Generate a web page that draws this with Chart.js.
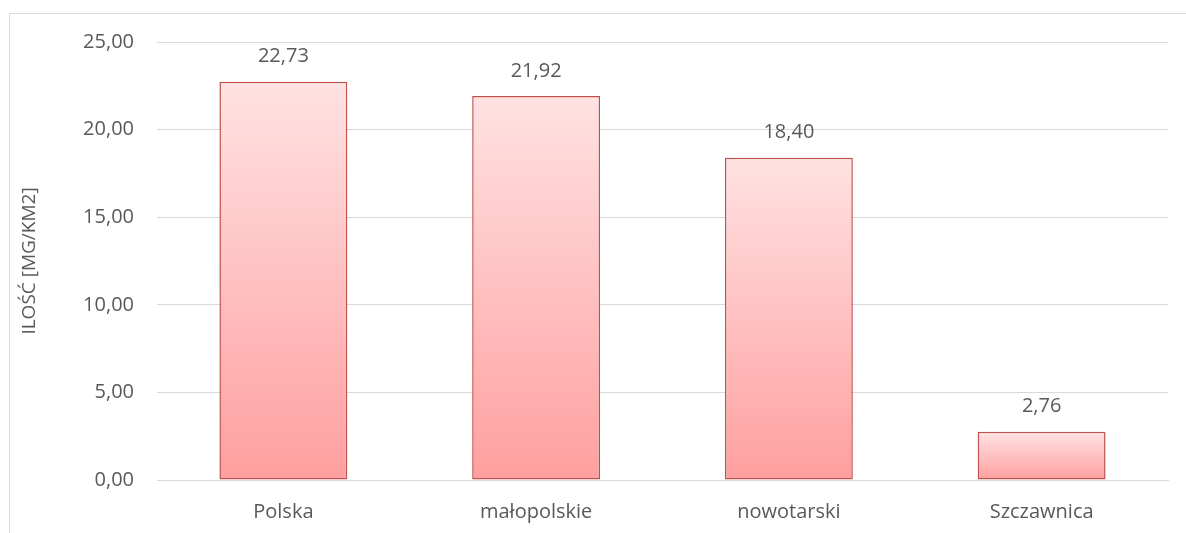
<!DOCTYPE html>
<html>
<head>
<meta charset="utf-8">
<script src="https://cdn.jsdelivr.net/npm/chart.js@4.4.1/dist/chart.umd.min.js"></script>
<style>
  html, body { margin: 0; padding: 0; background: #fff; overflow: hidden; }
  #frame {
    position: absolute; left: 9px; top: 13px;
    width: 1300px; height: 700px;
    border: 1px solid #d9d9d9;
  }
  #wrap { position: absolute; left: 0; top: 0; width: 1186px; height: 533px; }
</style>
</head>
<body>
<div id="frame"></div>
<div id="wrap"><canvas id="chart"></canvas></div>
<script>
// Chart data
const categories = ['Polska', 'małopolskie', 'nowotarski', 'Szczawnica'];
const values = [22.73, 21.92, 18.40, 2.76];
const yTicks = [0, 5, 10, 15, 20, 25];

const fontFamily = '"Open Sans", Lato, sans-serif';
const textColor = '#595959';
const fontSize = 20;

function fmt(v) {
  return Number(v).toFixed(2).replace('.', ',');
}

// Gradient fill per bar (light top, darker bottom)
function barGradient(context) {
  const chart = context.chart;
  const yScale = chart.scales.y;
  if (!chart.chartArea || !yScale) return '#ffc0c0';
  const top = yScale.getPixelForValue(values[context.dataIndex]);
  const bottom = yScale.getPixelForValue(0);
  if (!isFinite(top) || !isFinite(bottom) || top === bottom) return '#ffc0c0';
  const g = chart.ctx.createLinearGradient(0, top, 0, bottom);
  g.addColorStop(0, '#ffe2e2');
  g.addColorStop(1, '#ff9f9f');
  return g;
}

// Value labels above bars
const valueLabels = {
  id: 'valueLabels',
  afterDatasetsDraw(chart) {
    const ctx = chart.ctx;
    const meta = chart.getDatasetMeta(0);
    ctx.save();
    ctx.font = fontSize + 'px ' + fontFamily;
    ctx.fillStyle = textColor;
    ctx.textAlign = 'center';
    ctx.textBaseline = 'middle';
    meta.data.forEach((bar, i) => {
      ctx.fillText(fmt(values[i]), bar.x, bar.y - 25);
    });
    ctx.restore();
  }
};

const ctx = document.getElementById('chart').getContext('2d');
new Chart(ctx, {
  type: 'bar',
  data: {
    labels: categories,
    datasets: [
      {
        data: values,
        backgroundColor: (c) => barGradient(c),
        borderColor: '#c0504d',
        borderWidth: 1.5,
        borderSkipped: false,
        barPercentage: 0.506,
        categoryPercentage: 1,
      },
    ],
  },
  options: {
    responsive: true,
    maintainAspectRatio: false,
    animation: false,
    layout: { padding: { top: 42, right: 18, bottom: 0, left: 0 } },
    plugins: {
      legend: { display: false },
      tooltip: { enabled: false },
    },
    scales: {
      x: {
        grid: { display: false, drawTicks: false },
        border: { display: true, color: '#d9d9d9', width: 1 },
        ticks: {
          color: textColor,
          font: { family: fontFamily, size: fontSize },
          padding: 20,
        },
        afterFit: (scale) => { scale.height = 53; },
      },
      y: {
        min: 0,
        max: 25,
        afterBuildTicks: (scale) => {
          scale.ticks = yTicks.map((v) => ({ value: v }));
        },
        grid: { color: '#d9d9d9', lineWidth: 1, drawTicks: false },
        border: { display: false },
        ticks: {
          color: textColor,
          font: { family: fontFamily, size: fontSize },
          padding: 23,
          callback: (v) => fmt(v),
        },
        title: {
          display: true,
          text: 'ILOŚĆ [MG/KM2]',
          color: textColor,
          font: { family: fontFamily, size: 19 },
          padding: { top: 18, bottom: 0 },
        },
        afterFit: (scale) => { scale.width = 157; },
      },
    },
  },
  plugins: [valueLabels],
});
</script>
</body>
</html>
